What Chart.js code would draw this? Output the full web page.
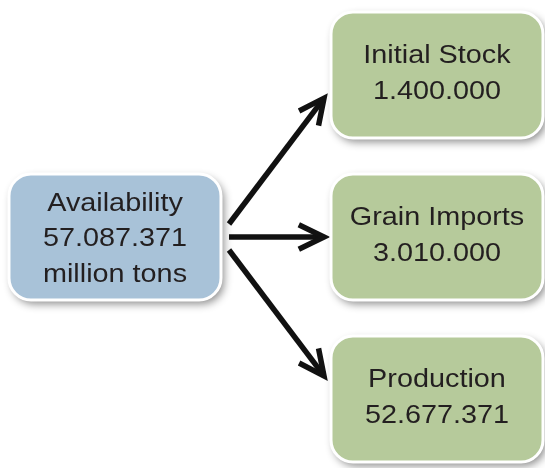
<!DOCTYPE html>
<html>
<head>
<meta charset="utf-8">
<script src="https://cdn.jsdelivr.net/npm/chart.js@4.4.1/dist/chart.umd.min.js"></script>
<style>
  html, body { margin: 0; padding: 0; background: #fff; }
  #wrap { width: 545px; height: 468px; position: relative; }
</style>
</head>
<body>
<div id="wrap"><canvas id="flowChart"></canvas></div>
<script>
// ── DATA ──────────────────────────────────────────────────────
const nodeNames  = ['Availability', 'Initial Stock', 'Grain Imports', 'Production'];
const nodeValues = ['57.087.371', '1.400.000', '3.010.000', '52.677.371'];
const nodeUnits  = ['million tons', '', '', ''];
const nodeCols   = [0, 1, 1, 1];
const nodeRows   = [1, 0, 1, 2];
const links      = [[0, 1], [0, 2], [0, 3]];

const BLUE  = '#a8c2d8';
const GREEN = '#b6ca9b';
const INK   = '#231f20';
const FONT  = "'Liberation Sans', Arial, sans-serif";

// ── DRAW BOXES + ARROWS ───────────────────────────────────────
const flowPlugin = {
  id: 'flow',
  afterDatasetsDraw(chart) {
    const { ctx, scales: { x, y } } = chart;
    const boxW = 212, boxH = 126, rad = 22;
    const pos = nodeCols.map((c, i) => ({ x: x.getPixelForValue(c), y: y.getPixelForValue(nodeRows[i]) }));

    // arrows
    ctx.save();
    ctx.strokeStyle = '#111';
    ctx.lineWidth = 5.5;
    ctx.lineCap = 'butt';
    ctx.lineJoin = 'miter';
    links.forEach(([s, t]) => {
      const sp = pos[s], tp = pos[t];
      const dir = Math.sign(tp.y - sp.y);
      const x0 = sp.x + boxW / 2 + 8;
      const y0 = sp.y + dir * 13;
      const x1 = tp.x - boxW / 2 - 7;
      const y1 = tp.y + (sp.y - tp.y) * 0.143;
      const ang = Math.atan2(y1 - y0, x1 - x0);
      const head = 28, spread = 0.45;
      const bx = x1 - Math.cos(ang) * 3, by = y1 - Math.sin(ang) * 3;
      ctx.beginPath();
      ctx.moveTo(x0, y0);
      ctx.lineTo(bx, by);
      ctx.stroke();
      ctx.beginPath();
      ctx.moveTo(x1 - head * Math.cos(ang - spread), y1 - head * Math.sin(ang - spread));
      ctx.lineTo(x1, y1);
      ctx.lineTo(x1 - head * Math.cos(ang + spread), y1 - head * Math.sin(ang + spread));
      ctx.stroke();
    });
    ctx.restore();

    // boxes
    pos.forEach((p, i) => {
      const bx = p.x - boxW / 2, by = p.y - boxH / 2;
      ctx.save();
      ctx.shadowColor = 'rgba(0,0,0,0.45)';
      ctx.shadowBlur = 9;
      ctx.shadowOffsetX = 3;
      ctx.shadowOffsetY = 4;
      ctx.beginPath();
      ctx.roundRect(bx, by, boxW, boxH, rad);
      ctx.fillStyle = nodeCols[i] === 0 ? BLUE : GREEN;
      ctx.fill();
      ctx.restore();

      ctx.save();
      ctx.beginPath();
      ctx.roundRect(bx, by, boxW, boxH, rad);
      ctx.lineWidth = 3;
      ctx.strokeStyle = '#fff';
      ctx.stroke();
      ctx.restore();

      const lines = [nodeNames[i], nodeValues[i], nodeUnits[i]].filter(s => s);
      const lh = 35.5;
      ctx.save();
      ctx.fillStyle = INK;
      ctx.font = '25.5px ' + FONT;
      ctx.textAlign = 'center';
      ctx.textBaseline = 'alphabetic';
      const first = p.y - (lines.length - 1) * lh / 2 + 9 - (lines.length === 2 ? 3 : 0);
      lines.forEach((t, k) => {
        ctx.save();
        ctx.translate(p.x, first + k * lh);
        ctx.scale(1.13, 1);
        ctx.fillText(t, 0, 0);
        ctx.restore();
      });
      ctx.restore();
    });
  }
};

new Chart(document.getElementById('flowChart'), {
  type: 'scatter',
  data: {
    datasets: [{
      data: nodeCols.map((c, i) => ({ x: c, y: nodeRows[i] })),
      pointRadius: 0,
      pointHoverRadius: 0
    }]
  },
  options: {
    responsive: true,
    maintainAspectRatio: false,
    animation: false,
    events: [],
    layout: { padding: 0 },
    plugins: { legend: { display: false }, tooltip: { enabled: false } },
    scales: {
      x: { type: 'linear', display: false, min: -0.3571, max: 1.3354 },
      y: { type: 'linear', display: false, reverse: true, min: -0.4630, max: 2.4259 }
    }
  },
  plugins: [flowPlugin]
});
</script>
</body>
</html>
